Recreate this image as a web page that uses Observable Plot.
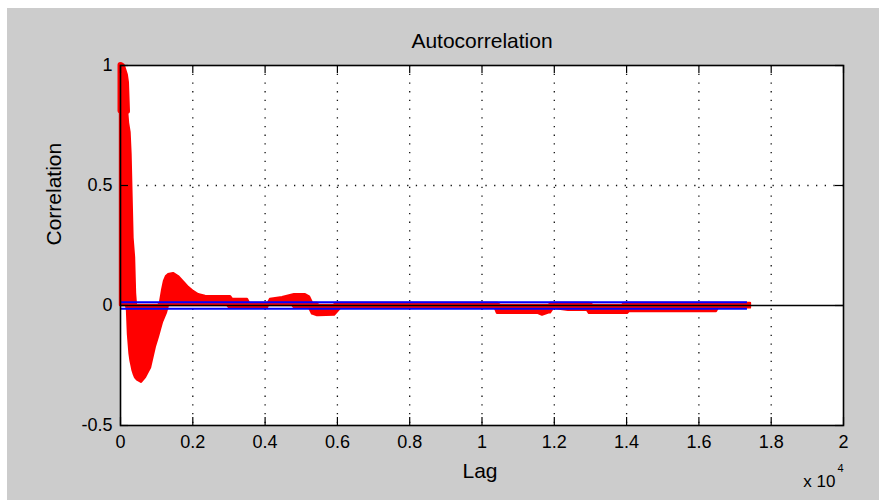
<!DOCTYPE html>
<html>
<head>
<meta charset="utf-8">
<script src="https://cdn.jsdelivr.net/npm/d3@7"></script>
<script src="https://cdn.jsdelivr.net/npm/@observablehq/plot@0.6"></script>
<style>
  html, body { margin: 0; padding: 0; background: #ffffff; width: 879px; height: 500px; overflow: hidden; }
  #chart { position: absolute; left: 7px; top: 8px; }
</style>
</head>
<body>
<div id="chart"></div>
<script>
// ---- data ----
const lags = [0, 55, 138, 166, 194, 221, 263, 290, 318, 345, 387, 415, 440, 470, 581, 692, 830, 968, 1051, 1106, 1162, 1217, 1272, 1328, 1466, 1604, 1743, 1881, 2019, 2157, 2351, 2960, 3015, 3043, 3098, 3513, 3568, 4066, 4094, 4149, 4481, 4757, 4813, 5117, 5228, 5311, 5450, 5480, 5919, 5950, 6085, 10373, 10428, 10511, 11562, 11673, 11870, 11894, 11977, 12392, 12917, 12972, 13083, 13885, 13940, 14024, 14079, 16486, 16541, 17426];
const upper = [1.0, 1.0, 0.96, 0.93, 0.81, 0.76, 0.72, 0.63, 0.45, 0.28, 0.20, 0.05, 0.0, 0.0, 0.0, 0.0, 0.0, 0.0, 0.0, 0.01, 0.06, 0.10, 0.12, 0.128, 0.133, 0.12, 0.098, 0.075, 0.058, 0.045, 0.038, 0.037, 0.037, 0.037, 0.025, 0.025, 0.009, 0.009, 0.009, 0.025, 0.033, 0.043, 0.045, 0.045, 0.035, 0.009, 0.009, 0, 0, 0.009, 0.009, 0.009, 0.009, 0, 0, 0, 0, 0.009, 0.009, 0.009, 0.009, 0.009, 0, 0, 0.009, 0.009, 0.009, 0.009, 0.009, 0.009];
const lower = [0, 0, 0, 0, -0.02, -0.12, -0.20, -0.23, -0.25, -0.27, -0.29, -0.30, -0.305, -0.31, -0.32, -0.30, -0.26, -0.17, -0.13, -0.10, -0.07, -0.05, -0.03, 0, 0, 0, 0, 0, 0, 0, 0, 0, -0.009, -0.009, -0.009, -0.009, -0.009, -0.009, 0, 0, 0, 0, -0.009, -0.009, -0.009, -0.035, -0.042, -0.042, -0.04, -0.035, -0.012, -0.012, -0.033, -0.033, -0.033, -0.04, -0.03, -0.03, -0.012, -0.02, -0.02, -0.033, -0.033, -0.033, -0.033, -0.033, -0.025, -0.025, -0.01, -0.01];
const bounds = [0.0138, -0.0138];   // confidence bounds
const boundEnd = 17343;             // lag where the bounds stop
const xTicks = [0, 2000, 4000, 6000, 8000, 10000, 12000, 14000, 16000, 18000, 20000];
const xGrid = [2000, 4000, 6000, 8000, 10000, 12000, 14000, 16000, 18000];
const yTicks = [-0.5, 0, 0.5, 1];
const yGrid = [0.5];
const titleText = "Autocorrelation";
const xLabel = "Lag";
const yLabel = "Correlation";
const expBase = "x 10";
const expPow = "4";

const table = lags.map((l, i) => ({lag: l, up: upper[i], lo: lower[i]}));
const head = table.filter(d => d.up >= 0.78);   // top of the first spike, drawn with a heavier pen

const innerW = 723, innerH = 360, tick = 8;
const font = "'Liberation Sans', Arial, Helvetica, sans-serif";

const chart = Plot.plot({
  width: 872,
  height: 492,
  marginLeft: 113,
  marginRight: 36,
  marginTop: 57,
  marginBottom: 75,
  style: {background: "#cccccc", fontFamily: font, color: "#000", overflow: "visible"},
  x: {domain: [0, 20000]},
  y: {domain: [-0.5, 1]},
  marks: [
    Plot.frame({fill: "#ffffff", stroke: null}),
    Plot.ruleX(xGrid, {x: d => d, stroke: "#111", strokeWidth: 1.3, strokeDasharray: "1.3,7.4"}),
    Plot.ruleY(yGrid, {y: d => d, stroke: "#111", strokeWidth: 1.3, strokeDasharray: "1.3,7.4"}),
    Plot.areaY(table, {x: "lag", y1: "lo", y2: "up", fill: "#ff0000", stroke: "#ff0000", strokeWidth: 2.4, strokeLinejoin: "round"}),
    Plot.lineY(head, {x: "lag", y: "up", stroke: "#ff0000", strokeWidth: 5, strokeLinecap: "round"}),
    Plot.ruleX(head.slice(0, 1), {x: "lag", y1: d => head[head.length - 1].up, y2: "up", stroke: "#ff0000", strokeWidth: 6, strokeLinecap: "round"}),
    Plot.ruleY(bounds, {y: d => d, x1: 0, x2: boundEnd, stroke: "#0000ff", strokeWidth: 2}),
    Plot.ruleY([0], {stroke: "#000", strokeWidth: 1.5}),
    Plot.ruleX(xTicks, {x: d => d, insetTop: innerH - tick, stroke: "#000", strokeWidth: 1.2}),
    Plot.ruleX(xTicks, {x: d => d, insetBottom: innerH - tick, stroke: "#000", strokeWidth: 1.2}),
    Plot.ruleY(yTicks, {y: d => d, insetRight: innerW - tick, stroke: "#000", strokeWidth: 1.2}),
    Plot.ruleY(yTicks, {y: d => d, insetLeft: innerW - tick, stroke: "#000", strokeWidth: 1.2}),
    Plot.axisX({ticks: xTicks, tickSize: 0, tickPadding: 10, fontSize: 18, label: null,
      tickFormat: d => String(+(d / 10000).toFixed(1))}),
    Plot.axisY({ticks: yTicks, tickSize: 0, tickPadding: 8, fontSize: 18, label: null,
      tickFormat: d => String(d)}),
    Plot.frame({stroke: "#000", strokeWidth: 1.6}),
    Plot.text([titleText], {text: d => d, frameAnchor: "top", dy: -24, lineAnchor: "middle", fontSize: 21}),
    Plot.text([xLabel], {text: d => d, frameAnchor: "bottom", dx: -2, dy: 46, lineAnchor: "middle", fontSize: 21}),
    Plot.text([yLabel], {text: d => d, frameAnchor: "left", dx: -66, rotate: -90, lineAnchor: "middle", fontSize: 21}),
    Plot.text([expBase], {text: d => d, frameAnchor: "bottom-right", textAnchor: "end", dx: -8, dy: 56, lineAnchor: "middle", fontSize: 17}),
    Plot.text([expPow], {text: d => d, frameAnchor: "bottom-right", textAnchor: "start", dx: -6, dy: 43, lineAnchor: "middle", fontSize: 11})
  ]
});
document.getElementById("chart").appendChild(chart);
</script>
</body>
</html>
